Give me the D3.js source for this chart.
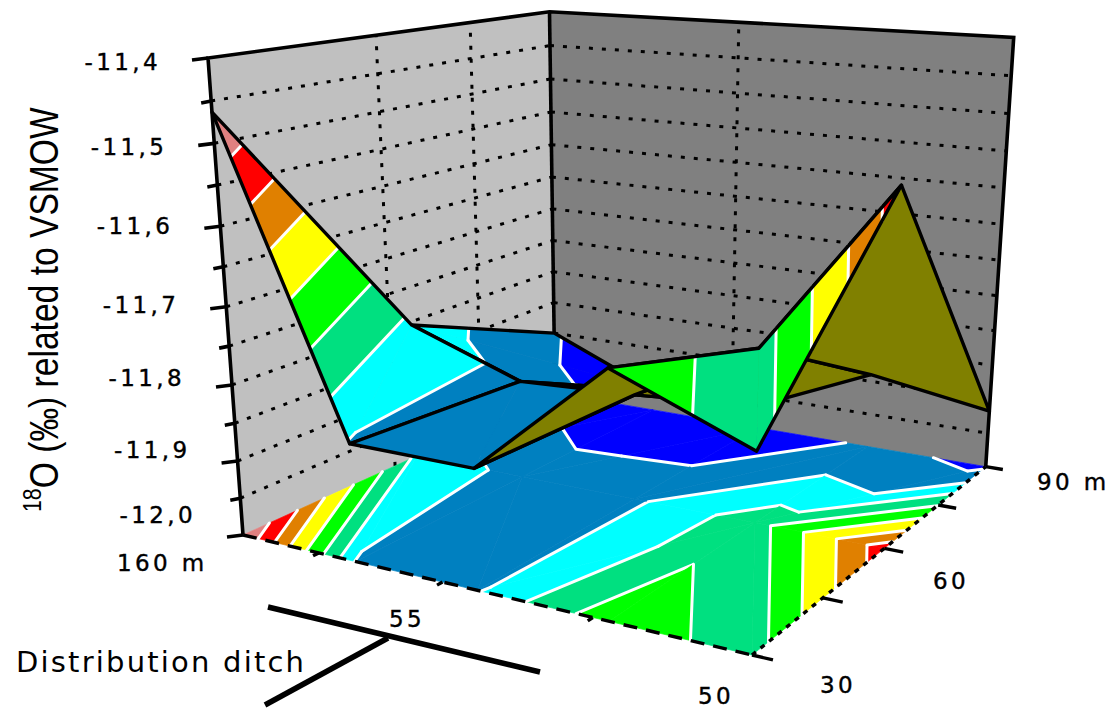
<!DOCTYPE html>
<html>
<head>
<style>
  html, body { margin: 0; background: #fff; }
  svg { display: block; }
  text { font-family: "DejaVu Sans", sans-serif; fill: #000; }
</style>
<script src="https://d3js.org/d3.v7.min.js"></script>
</head>
<body>
<svg id="chart" width="1115" height="710"></svg>
<script>
// data
var ditchPositions = [160, 132, 105, 55, 50];   // only 160 m, 55 and 50 carry a label
var depths = [30, 60, 90];
var rowFront = [-11.463, -11.847, -11.847, -11.70, -11.765];  // depth 30
var rowMiddle = [-11.805, -11.861, -11.853, -11.764, -11.54]; // depth 60
var rowBack = [-11.9, -11.968, -11.965, -11.89, -11.917];     // depth 90
var zTicks = [-12, -11.95, -11.9, -11.85, -11.8, -11.75, -11.7, -11.65, -11.6, -11.55, -11.5, -11.45, -11.4];
var zLabels = ["-12,0", "-11,9", "-11,8", "-11,7", "-11,6", "-11,5", "-11,4"];
var bandBreaks = [-12.1, -11.905, -11.843, -11.793, -11.737, -11.68, -11.623, -11.57, -11.515, -11.3];
var bandColors = ["#0000ff", "#0080c0", "#00ffff", "#00e080", "#00ff00", "#ffff00", "#e08000", "#ff0000", "#e08080"];
var underColor = "#808000";

var rows = [rowFront, rowMiddle, rowBack];
var svg = d3.select("#chart");

var uScale = d3.scaleLinear().domain([0, ditchPositions.length - 1]).range([0, 1]);
var vScale = d3.scaleLinear().domain([0, depths.length - 1]).range([0, 1]);
var zScale = d3.scaleLinear().domain([-12, -11.4]).range([0, 1]);

// box as seen on screen, three vanishing points
var origin = [243, 535], vpU = [-2747, -170], vpV = [1752, -151], vpZ = [634, 5864];
var alpha = (243 - 752) / (752 - vpU[0]);
var beta = (243 - 555) / (555 - vpV[0]);
var gamma = (535 - 58) / (58 - vpZ[1]);

function project(u, v, t) {
  var w = 1 + u * alpha + v * beta + t * gamma;
  return [
    (origin[0] + u * alpha * vpU[0] + v * beta * vpV[0] + t * gamma * vpZ[0]) / w,
    (origin[1] + u * alpha * vpU[1] + v * beta * vpV[1] + t * gamma * vpZ[1]) / w
  ];
}
function vertex(i, j, floor) {
  var z = rows[j][i];
  return { i: i, j: j, z: z, p: project(uScale(i), vScale(j), floor ? 0 : zScale(z)) };
}
var line = d3.line();
function poly(points) { return line(points) + "Z"; }

// cut a triangle down to one colour band
function clipBand(tri, lo, hi) {
  function clip(pts, level, keepAbove) {
    var out = [];
    pts.forEach(function(a, n) {
      var b = pts[(n + 1) % pts.length];
      var aIn = keepAbove ? a.z >= level : a.z <= level;
      var bIn = keepAbove ? b.z >= level : b.z <= level;
      if (aIn) out.push(a);
      if (aIn !== bIn) {
        var f = (level - a.z) / (b.z - a.z);
        out.push({ z: level, p: [a.p[0] + f * (b.p[0] - a.p[0]), a.p[1] + f * (b.p[1] - a.p[1])] });
      }
    });
    return out;
  }
  var pts = clip(tri, lo, true);
  return pts.length ? clip(pts, hi, false) : [];
}
// contour segment of a triangle at one level
function levelSegment(tri, level) {
  var seg = [];
  tri.forEach(function(a, n) {
    var b = tri[(n + 1) % 3];
    if ((a.z - level) * (b.z - level) < 0) {
      var f = (level - a.z) / (b.z - a.z);
      seg.push([a.p[0] + f * (b.p[0] - a.p[0]), a.p[1] + f * (b.p[1] - a.p[1])]);
    }
  });
  return seg.length === 2 ? seg : null;
}
// split a cell along the pair of lower corners
function cellTriangles(a, b, c, d) {
  if (a.z + c.z < b.z + d.z) return [[a, b, c], [a, c, d]];
  return [[a, b, d], [b, c, d]];
}
function paintCell(g, a, b, c, d) {
  cellTriangles(a, b, c, d).forEach(function(tri) {
    bandColors.forEach(function(col, k) {
      var piece = clipBand(tri, bandBreaks[k], bandBreaks[k + 1]);
      if (piece.length > 2) {
        g.append("path").attr("d", poly(piece.map(function(q) { return q.p; })))
          .attr("fill", col).attr("stroke", col).attr("stroke-width", 0.7);
      }
    });
  });
  cellTriangles(a, b, c, d).forEach(function(tri) {
    bandBreaks.slice(1, -1).forEach(function(level) {
      var seg = levelSegment(tri, level);
      if (seg) g.append("path").attr("d", line(seg)).attr("fill", "none")
        .attr("stroke", "#fff").attr("stroke-width", 3).attr("stroke-linecap", "round");
    });
  });
}

// walls
var A = project(0, 0, 0), A2 = project(0, 0, 1), D = project(0, 1, 0), D2 = project(0, 1, 1);
var C = project(1, 1, 0), C2 = project(1, 1, 1), B = project(1, 0, 0);
var walls = svg.append("g");
walls.append("path").attr("d", poly([A, A2, D2, D])).attr("fill", "#c0c0c0");
walls.append("path").attr("d", poly([D, D2, C2, C])).attr("fill", "#808080");

// gridlines on the walls
var grid = svg.append("g").attr("fill", "none").attr("stroke", "#000")
  .attr("stroke-width", 3).attr("stroke-dasharray", "4 9");
zTicks.slice(1, -1).forEach(function(z) {
  var t = zScale(z);
  grid.append("path").attr("d", line([project(0, 0, t), project(0, 1, t)]));
  grid.append("path").attr("d", line([project(0, 1, t), project(1, 1, t)]));
});
[0.43, 0.72].forEach(function(s) {
  grid.append("path").attr("d", line([project(0, s, 0), project(0, s, 1)]));
});
grid.append("path").attr("d", line([project(0.44, 1, 0), project(0.44, 1, 1)]));

// wall outline
var frame = svg.append("g").attr("fill", "none").attr("stroke", "#000").attr("stroke-width", 3.6);
frame.append("path").attr("d", line([A, A2, D2, C2, C]));
frame.append("path").attr("d", line([D2, D]));
frame.selectAll(".ztick").data(zTicks).enter().append("path")
  .attr("d", function(z, n) {
    var t = zScale(z), p = project(0, 0, t);
    return line([p, [p[0] - (n % 2 ? 10 : 16), p[1] + 2]]);
  });

// contour map on the floor
var floorG = svg.append("g");
d3.range(depths.length - 1).forEach(function(j) {
  d3.range(ditchPositions.length - 1).forEach(function(i) {
    paintCell(floorG, vertex(i, j, true), vertex(i + 1, j, true), vertex(i + 1, j + 1, true), vertex(i, j + 1, true));
  });
});
var floorEdge = svg.append("g").attr("fill", "none").attr("stroke", "#000").attr("stroke-width", 3.4);
floorEdge.append("path").attr("d", line([A, B])).attr("stroke-dasharray", "14 9");
floorEdge.append("path").attr("d", line([B, C])).attr("stroke-dasharray", "5 6");
[0, 0.25, 0.5, 0.75, 1].forEach(function(s) {
  floorEdge.append("path").attr("d", line([project(1, s, 0), project(1.035, s, 0)]));
});
[0.17, 0.43, 0.72].forEach(function(s) {
  floorEdge.append("path").attr("d", line([project(s, 0, 0), project(s, -0.015, 0)]));
});

// surface, far cells first
var surface = svg.append("g");
d3.range(depths.length - 2, -1, -1).forEach(function(j) {
  d3.range(ditchPositions.length - 1).forEach(function(i) {
    var a = vertex(i, j), b = vertex(i + 1, j), c = vertex(i + 1, j + 1), d = vertex(i, j + 1);
    var cross = (c.p[0] - a.p[0]) * (d.p[1] - b.p[1]) - (c.p[1] - a.p[1]) * (d.p[0] - b.p[0]);
    var outline = [a.p, b.p, c.p, d.p];
    if (cross > 0) {
      surface.append("path").attr("d", poly(outline)).attr("fill", underColor);
    } else {
      paintCell(surface, a, b, c, d);
    }
    surface.append("path").attr("d", poly(outline)).attr("fill", "none")
      .attr("stroke", "#000").attr("stroke-width", 3.4).attr("stroke-linejoin", "round");
  });
});

// value labels
var labelG = svg.append("g").attr("font-size", 23).attr("letter-spacing", 3.4)
  .style("stroke", "#000").style("stroke-width", 0.4);
var labelNudge = [-12, -3, 1, 6, 8, 12, 12];
zLabels.forEach(function(label, n) {
  var z = -12 + n * 0.1, p = project(0, 0, zScale(z));
  labelG.append("text").attr("x", p[0] - 47).attr("y", p[1] + labelNudge[n]).attr("text-anchor", "end").text(label);
});
var axisLabels = [
  { t: "160 m", x: 117, y: 571 }, { t: "55", x: 389, y: 627 }, { t: "50", x: 698, y: 704 },
  { t: "30", x: 820, y: 693 }, { t: "60", x: 933, y: 589 }, { t: "90 m", x: 1037, y: 490 }
];
labelG.selectAll(".al").data(axisLabels).enter().append("text")
  .attr("x", function(d) { return d.x; }).attr("y", function(d) { return d.y; })
  .text(function(d) { return d.t; });

// axis title and ditch sketch
svg.append("text").attr("x", 16).attr("y", 672).attr("font-size", 29)
  .attr("textLength", 288).attr("lengthAdjust", "spacing").text("Distribution ditch");
svg.append("g").attr("stroke", "#000").attr("stroke-width", 5.5).selectAll("path")
  .data([[[268, 607], [540, 672]], [[265, 705], [388, 638]]]).enter().append("path").attr("d", line);
var title = svg.append("text").attr("transform", "translate(58,512) rotate(-90) scale(0.82,1)")
  .attr("font-size", 41).style("font-family", "'Liberation Sans', sans-serif");
title.append("tspan").attr("font-size", 26).attr("dy", -17).text("18");
title.append("tspan").attr("dy", 17).text("O  (\u2030) related to VSMOW");
</script>
</body>
</html>
